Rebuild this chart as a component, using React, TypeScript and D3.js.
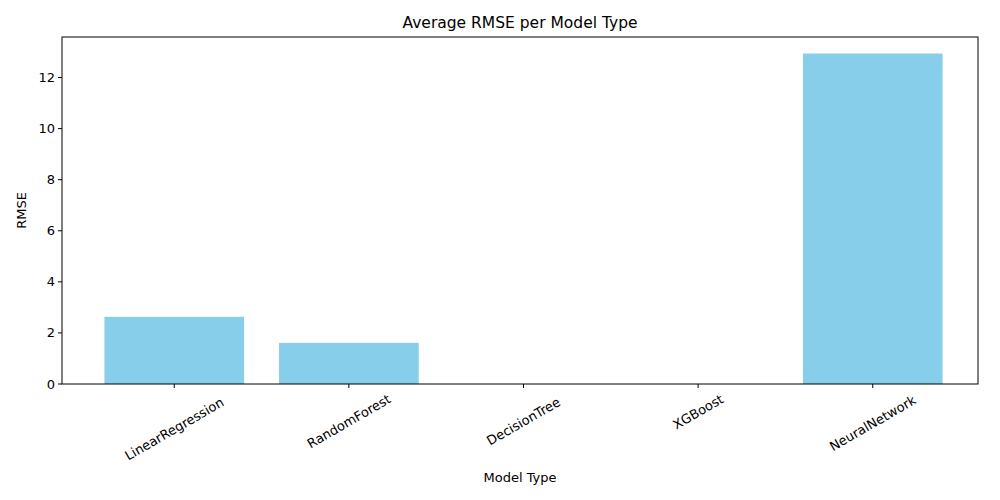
import React from "react";
import * as d3 from "d3";

const categories = ["LinearRegression", "RandomForest", "DecisionTree", "XGBoost", "NeuralNetwork"];
const values = [2.63, 1.61, 0, 0, 12.94];
const yTicks = [0, 2, 4, 6, 8, 10, 12];

export default function App() {
  const L = 62, R = 978, T = 37, B = 384;
  const x = d3.scaleBand<string>().domain(categories).range([66, 981]).paddingInner(0.2).paddingOuter(0.22);
  const y = d3.scaleLinear().domain([0, 12.94 * 1.05]).range([B, T]);
  const font = "DejaVu Sans, sans-serif";
  return (
    <svg width={1000} height={500} style={{ position: "absolute", left: 0, top: 0, background: "#fff" }} fontFamily={font}>
      <rect width={1000} height={500} fill="#fff" />
      {categories.map((c, i) => (
        <rect key={c} x={x(c)} y={y(values[i])} width={x.bandwidth()} height={B - y(values[i])} fill="#87ceeb" />
      ))}
      <rect x={L} y={T} width={R - L} height={B - T} fill="none" stroke="#000" strokeWidth={1} />
      {yTicks.map(t => (
        <g key={t}>
          <line x1={L - 4} x2={L} y1={y(t)} y2={y(t)} stroke="#000" />
          <text x={L - 7} y={y(t)} dy="0.35em" textAnchor="end" fontSize={13}>{t}</text>
        </g>
      ))}
      {categories.map(c => {
        const cx = x(c)! + x.bandwidth() / 2;
        const w = c.length * 7.6;
        const cy = B + 8 + (w * 0.5 + 15 * 0.866) / 2;
        return (
          <g key={c}>
            <line x1={cx} x2={cx} y1={B} y2={B + 4} stroke="#000" />
            <text transform={`translate(${cx},${cy}) rotate(-30)`} textAnchor="middle" dy="0.35em" fontSize={13}>{c}</text>
          </g>
        );
      })}
      <text x={(L + R) / 2} y={28} textAnchor="middle" fontSize={15.5}>Average RMSE per Model Type</text>
      <text x={(L + R) / 2} y={482} textAnchor="middle" fontSize={13}>Model Type</text>
      <text transform={`translate(26,${(T + B) / 2}) rotate(-90)`} textAnchor="middle" fontSize={13}>RMSE</text>
    </svg>
  );
}
